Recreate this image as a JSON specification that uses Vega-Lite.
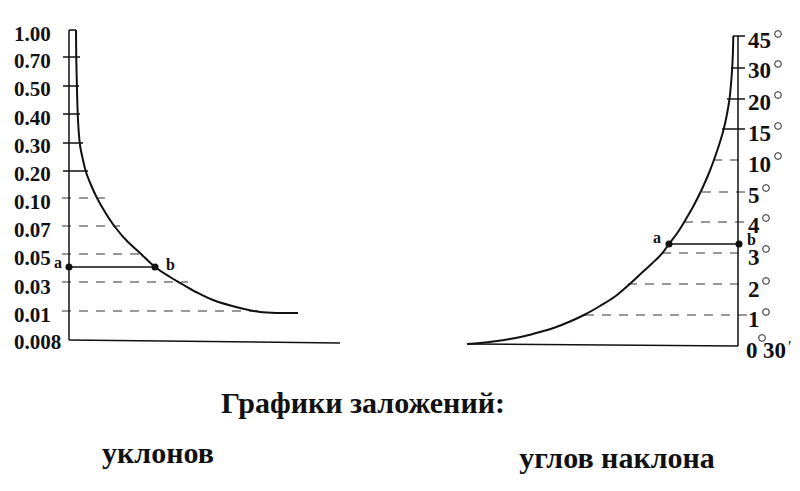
{
  "$schema": "https://vega.github.io/schema/vega-lite/v6.json",
  "width": 800,
  "height": 491,
  "autosize": {"type": "fit", "contains": "padding"},
  "padding": 0,
  "background": "white",
  "config": {"view": {"stroke": null}},
  "datasets": {
    "solid": [
      {"x": 69, "y": 30, "x2": 69, "y2": 340},
      {"x": 69, "y": 30, "x2": 76, "y2": 30},
      {"x": 69, "y": 340, "x2": 340, "y2": 343},
      {"x": 63, "y": 57, "x2": 80, "y2": 57},
      {"x": 63, "y": 86, "x2": 79, "y2": 86},
      {"x": 63, "y": 114, "x2": 80, "y2": 114},
      {"x": 63, "y": 143, "x2": 83, "y2": 143},
      {"x": 63, "y": 171, "x2": 88, "y2": 171},
      {"x": 69, "y": 267, "x2": 155, "y2": 267},
      {"x": 738, "y": 36, "x2": 738, "y2": 346},
      {"x": 733, "y": 36, "x2": 745, "y2": 36},
      {"x": 467, "y": 344, "x2": 738, "y2": 346},
      {"x": 731, "y": 68, "x2": 745, "y2": 68},
      {"x": 727, "y": 99, "x2": 745, "y2": 99},
      {"x": 722, "y": 129, "x2": 745, "y2": 129},
      {"x": 669, "y": 244, "x2": 738, "y2": 244}
    ],
    "dashed": [
      {"x": 62, "y": 198, "x2": 105, "y2": 198},
      {"x": 62, "y": 226, "x2": 120, "y2": 226},
      {"x": 62, "y": 254, "x2": 144, "y2": 254},
      {"x": 62, "y": 282, "x2": 188, "y2": 282},
      {"x": 62, "y": 311, "x2": 262, "y2": 311},
      {"x": 713, "y": 160, "x2": 747, "y2": 160},
      {"x": 702, "y": 192, "x2": 747, "y2": 192},
      {"x": 684, "y": 222, "x2": 747, "y2": 222},
      {"x": 662, "y": 253, "x2": 747, "y2": 253},
      {"x": 628, "y": 284, "x2": 747, "y2": 284},
      {"x": 585, "y": 315, "x2": 747, "y2": 315}
    ],
    "curves": [
      {"curve": "left", "i": 1, "x": 76, "y": 30},
      {"curve": "left", "i": 2, "x": 76.3, "y": 60},
      {"curve": "left", "i": 3, "x": 77, "y": 90},
      {"curve": "left", "i": 4, "x": 78, "y": 120},
      {"curve": "left", "i": 5, "x": 80, "y": 145},
      {"curve": "left", "i": 6, "x": 83, "y": 160},
      {"curve": "left", "i": 7, "x": 86, "y": 172},
      {"curve": "left", "i": 8, "x": 91, "y": 185},
      {"curve": "left", "i": 9, "x": 97, "y": 198},
      {"curve": "left", "i": 10, "x": 105, "y": 212},
      {"curve": "left", "i": 11, "x": 115, "y": 227},
      {"curve": "left", "i": 12, "x": 127, "y": 241},
      {"curve": "left", "i": 13, "x": 140, "y": 253},
      {"curve": "left", "i": 14, "x": 155, "y": 267},
      {"curve": "left", "i": 15, "x": 170, "y": 277},
      {"curve": "left", "i": 16, "x": 182, "y": 284},
      {"curve": "left", "i": 17, "x": 196, "y": 292},
      {"curve": "left", "i": 18, "x": 213, "y": 300},
      {"curve": "left", "i": 19, "x": 240, "y": 308},
      {"curve": "left", "i": 20, "x": 260, "y": 312},
      {"curve": "left", "i": 21, "x": 280, "y": 313},
      {"curve": "left", "i": 22, "x": 298, "y": 313},
      {"curve": "right", "i": 1, "x": 467, "y": 344},
      {"curve": "right", "i": 2, "x": 480, "y": 343},
      {"curve": "right", "i": 3, "x": 495, "y": 341.3},
      {"curve": "right", "i": 4, "x": 510, "y": 339},
      {"curve": "right", "i": 5, "x": 525, "y": 336},
      {"curve": "right", "i": 6, "x": 540, "y": 332},
      {"curve": "right", "i": 7, "x": 555, "y": 327.5},
      {"curve": "right", "i": 8, "x": 570, "y": 321.5},
      {"curve": "right", "i": 9, "x": 585, "y": 314.5},
      {"curve": "right", "i": 10, "x": 600, "y": 306},
      {"curve": "right", "i": 11, "x": 615, "y": 296.5},
      {"curve": "right", "i": 12, "x": 628, "y": 285.5},
      {"curve": "right", "i": 13, "x": 640, "y": 274.5},
      {"curve": "right", "i": 14, "x": 652, "y": 263.5},
      {"curve": "right", "i": 15, "x": 662, "y": 253.5},
      {"curve": "right", "i": 16, "x": 669, "y": 244},
      {"curve": "right", "i": 17, "x": 678, "y": 232},
      {"curve": "right", "i": 18, "x": 686, "y": 219},
      {"curve": "right", "i": 19, "x": 694, "y": 205},
      {"curve": "right", "i": 20, "x": 702, "y": 189},
      {"curve": "right", "i": 21, "x": 709, "y": 173},
      {"curve": "right", "i": 22, "x": 715, "y": 157},
      {"curve": "right", "i": 23, "x": 720, "y": 142},
      {"curve": "right", "i": 24, "x": 724, "y": 128},
      {"curve": "right", "i": 25, "x": 727, "y": 114},
      {"curve": "right", "i": 26, "x": 729.5, "y": 99},
      {"curve": "right", "i": 27, "x": 731, "y": 84},
      {"curve": "right", "i": 28, "x": 732.2, "y": 68},
      {"curve": "right", "i": 29, "x": 733, "y": 50},
      {"curve": "right", "i": 30, "x": 733.3, "y": 36}
    ],
    "dots": [
      {"x": 69, "y": 267},
      {"x": 155, "y": 267},
      {"x": 669, "y": 244},
      {"x": 739, "y": 244}
    ],
    "degs": [
      {"x": 778, "y": 34},
      {"x": 778, "y": 64},
      {"x": 778, "y": 95},
      {"x": 778, "y": 126},
      {"x": 778, "y": 156},
      {"x": 766, "y": 188},
      {"x": 766, "y": 218},
      {"x": 766, "y": 249},
      {"x": 766, "y": 281},
      {"x": 766, "y": 312},
      {"x": 762, "y": 338}
    ],
    "labels": [
      {"kind": "lt", "text": "1.00", "x": 14, "y": 41},
      {"kind": "lt", "text": "0.70", "x": 14, "y": 68},
      {"kind": "lt", "text": "0.50", "x": 14, "y": 96},
      {"kind": "lt", "text": "0.40", "x": 14, "y": 125},
      {"kind": "lt", "text": "0.30", "x": 14, "y": 153},
      {"kind": "lt", "text": "0.20", "x": 14, "y": 181},
      {"kind": "lt", "text": "0.10", "x": 14, "y": 209},
      {"kind": "lt", "text": "0.07", "x": 14, "y": 237},
      {"kind": "lt", "text": "0.05", "x": 14, "y": 265},
      {"kind": "lt", "text": "0.03", "x": 14, "y": 294},
      {"kind": "lt", "text": "0.01", "x": 14, "y": 322},
      {"kind": "lt", "text": "0.008", "x": 14, "y": 349},
      {"kind": "rt", "text": "45", "x": 748, "y": 48},
      {"kind": "rt", "text": "30", "x": 748, "y": 78},
      {"kind": "rt", "text": "20", "x": 748, "y": 110},
      {"kind": "rt", "text": "15", "x": 748, "y": 141},
      {"kind": "rt", "text": "10", "x": 748, "y": 172},
      {"kind": "rt", "text": "5", "x": 748, "y": 203},
      {"kind": "rt", "text": "4", "x": 748, "y": 233},
      {"kind": "rt", "text": "3", "x": 748, "y": 265},
      {"kind": "rt", "text": "2", "x": 748, "y": 297},
      {"kind": "rt", "text": "1", "x": 748, "y": 327},
      {"kind": "rt", "text": "0", "x": 746, "y": 358},
      {"kind": "rt", "text": "30", "x": 763, "y": 358},
      {"kind": "prime", "text": "′", "x": 788, "y": 352},
      {"kind": "ab", "text": "a", "x": 54, "y": 268},
      {"kind": "ab", "text": "b", "x": 166, "y": 270},
      {"kind": "ab", "text": "a", "x": 653, "y": 243},
      {"kind": "ab", "text": "b", "x": 747, "y": 245},
      {"kind": "title", "text": "Графики заложений:", "x": 363, "y": 413},
      {"kind": "title", "text": "уклонов", "x": 158, "y": 463},
      {"kind": "title", "text": "углов наклона", "x": 617, "y": 468}
    ]
  },
  "encoding": {
    "x": {"field": "x", "type": "quantitative", "scale": {"domain": [0, 800], "nice": false, "zero": false}, "axis": null},
    "y": {"field": "y", "type": "quantitative", "scale": {"domain": [0, 491], "nice": false, "zero": false, "reverse": true}, "axis": null}
  },
  "layer": [
    {
      "data": {"name": "dashed"},
      "mark": {"type": "rule", "stroke": "#333", "strokeWidth": 1.2, "strokeDash": [9, 8]},
      "encoding": {"x2": {"field": "x2"}, "y2": {"field": "y2"}}
    },
    {
      "data": {"name": "solid"},
      "mark": {"type": "rule", "stroke": "#111", "strokeWidth": 1.5},
      "encoding": {"x2": {"field": "x2"}, "y2": {"field": "y2"}}
    },
    {
      "data": {"name": "curves"},
      "mark": {"type": "line", "stroke": "#111", "strokeWidth": 2, "interpolate": "catmull-rom"},
      "encoding": {"detail": {"field": "curve"}, "order": {"field": "i", "type": "quantitative"}}
    },
    {
      "data": {"name": "dots"},
      "mark": {"type": "point", "filled": true, "color": "#111", "size": 50, "opacity": 1}
    },
    {
      "data": {"name": "degs"},
      "mark": {"type": "point", "filled": false, "stroke": "#222", "strokeWidth": 1, "size": 45, "opacity": 1}
    },
    {
      "data": {"name": "labels"},
      "transform": [{"filter": "datum.kind === 'lt'"}],
      "mark": {"type": "text", "align": "left", "baseline": "alphabetic", "font": "Liberation Serif, Times New Roman, serif", "fontWeight": "bold", "fontSize": 21, "color": "#111"},
      "encoding": {"text": {"field": "text"}}
    },
    {
      "data": {"name": "labels"},
      "transform": [{"filter": "datum.kind === 'rt'"}],
      "mark": {"type": "text", "align": "left", "baseline": "alphabetic", "font": "Liberation Serif, Times New Roman, serif", "fontWeight": "bold", "fontSize": 23, "color": "#111"},
      "encoding": {"text": {"field": "text"}}
    },
    {
      "data": {"name": "labels"},
      "transform": [{"filter": "datum.kind === 'prime'"}],
      "mark": {"type": "text", "align": "left", "baseline": "alphabetic", "font": "Liberation Serif, Times New Roman, serif", "fontSize": 16, "color": "#111"},
      "encoding": {"text": {"field": "text"}}
    },
    {
      "data": {"name": "labels"},
      "transform": [{"filter": "datum.kind === 'ab'"}],
      "mark": {"type": "text", "align": "left", "baseline": "alphabetic", "font": "Liberation Serif, Times New Roman, serif", "fontWeight": "bold", "fontSize": 16, "color": "#111"},
      "encoding": {"text": {"field": "text"}}
    },
    {
      "data": {"name": "labels"},
      "transform": [{"filter": "datum.kind === 'title'"}],
      "mark": {"type": "text", "align": "center", "baseline": "alphabetic", "font": "Liberation Serif, Times New Roman, serif", "fontWeight": "bold", "fontSize": 30, "color": "#111"},
      "encoding": {"text": {"field": "text"}}
    }
  ]
}
